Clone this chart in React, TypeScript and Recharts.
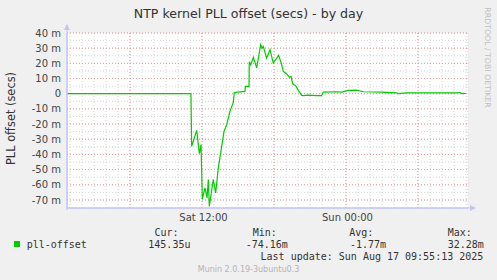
import { LineChart, Line, XAxis, YAxis, CartesianGrid, ReferenceLine } from "recharts"

// time in hours since Sat 00:00, offset in milliseconds
const hours = [
  0.75, 11.08, 11.14, 11.56, 11.78, 11.92, 12.03, 12.25, 12.42, 12.53, 12.61, 12.94, 13.14, 13.36,
  13.58, 13.83, 14.06, 14.33, 14.61, 14.69, 15.17, 15.58, 15.62, 15.92, 15.94, 16.06, 16.28, 16.56,
  16.89, 17.0, 17.11, 17.39, 17.67, 17.94, 18.39, 18.61, 18.78, 19.06, 19.28, 19.42, 19.56, 19.83,
  20.08, 20.31, 20.44, 20.86, 21.56, 21.97, 22.11, 23.22, 23.67, 24.19, 24.89, 25.44, 26.98, 28.22,
  28.36, 29.06, 33.22, 33.5, 33.67, 34.0,
]
const offsetMs = [
  0, 0, -34.7, -24.2, -39.5, -33.6, -69.4, -62, -68.7, -56.6, -74.2, -56.6, -65.4, -48.9,
  -38, -25, -20.4, -11.6, -5.7, 0.8, 1.2, 1.5, 4.8, 4.8, 21, 19, 24, 17,
  32.3, 30, 31.2, 23.5, 29, 20.2, 25.3, 20, 14.7, 13, 10.8, 11.4, 6.5, 5,
  1.5, -1.1, -1.3, -0.9, -1.3, -1.3, 1.1, 1.3, 1.0, 2.2, 2.4, 1.3, 1.0, 0.5,
  0, 0.5, 0.5, 0.8, 0.1, 0.15,
]

const minorX = Array.from({ length: 34 }, (_, i) => i + 1)
const majorX = [6, 12, 18, 24, 30]
const xLabels: Record<number, string> = { 12: "Sat 12:00", 24: "Sun 00:00" }
const minorY = [-70, -65, -60, -55, -50, -45, -40, -35, -30, -25, -20, -15, -10, -5, 0, 5, 10, 15, 20, 25, 30, 35, 40]
const majorY = [-70, -60, -50, -40, -30, -20, -10, 0, 10, 20, 30, 40]

const legendHeads = [
  { label: "Cur:", x: 154.5 },
  { label: "Min:", x: 252.7 },
  { label: "Avg:", x: 349.3 },
  { label: "Max:", x: 447.7 },
]
const legendValues = [
  { label: "145.35u", x: 148.3 },
  { label: "-74.16m", x: 245.7 },
  { label: "-1.77m", x: 350 },
  { label: "32.28m", x: 447.7 },
]

const data = hours.map((h, i) => ({ h, v: offsetMs[i] }))

const SANS = "'DejaVu Sans', sans-serif"
const MONO = "'DejaVu Sans Mono', monospace"
const AXIS = "#c4c4f4"

function YTick(props: any) {
  const { y, payload } = props
  const v = payload.value
  if (v % 10 !== 0) return null
  const txt = v === 0 ? "0" : `${v} m`
  return (
    <text x={61} y={y + 3.6} textAnchor="end" fontSize={10} fontFamily={SANS} fill="#444">
      {txt}
    </text>
  )
}

function XTick(props: any) {
  const { x, payload } = props
  const txt = xLabels[payload.value]
  if (!txt) return null
  return (
    <text x={x + 1.5} y={221} textAnchor="middle" fontSize={10} fontFamily={SANS} fill="#444">
      {txt}
    </text>
  )
}

export default function App() {
  return (
    <div style={{ position: "absolute", left: 0, top: 0, width: 497, height: 280, background: "#f0f0f0", overflow: "hidden" }}>
      <LineChart width={497} height={280} data={data} margin={{ top: 33, right: 29, bottom: 52, left: 0 }}>
        <CartesianGrid fill="#ffffff" stroke="#d4d4d4" strokeDasharray="1 2" />
        <XAxis
          dataKey="h"
          type="number"
          domain={[0.75, 34.17]}
          ticks={minorX}
          interval={0}
          height={20}
          tick={<XTick />}
          tickLine={false}
          axisLine={{ stroke: AXIS }}
          allowDataOverflow
        />
        <YAxis
          type="number"
          domain={[-75.3, 40]}
          ticks={minorY}
          interval={0}
          width={67}
          tick={<YTick />}
          tickLine={false}
          axisLine={{ stroke: AXIS }}
          allowDataOverflow
        />
        {majorY.map((v) => (
          <ReferenceLine key={`y${v}`} y={v} stroke="#ee9a9a" strokeDasharray="1 2" />
        ))}
        {majorX.map((v) => (
          <ReferenceLine key={`x${v}`} x={v} stroke="#ee9a9a" strokeDasharray="1 2" />
        ))}
        <Line
          type="linear"
          dataKey="v"
          stroke="#00cc00"
          strokeWidth={1.2}
          dot={false}
          isAnimationActive={false}
        />
      </LineChart>
      <svg width={497} height={280} style={{ position: "absolute", left: 0, top: 0, pointerEvents: "none" }}>
        <line x1={67} y1={28} x2={67} y2={210} stroke={AXIS} />
        <polygon points="64,30 70,30 67,24" fill={AXIS} />
        <line x1={66} y1={208} x2={471} y2={208} stroke={AXIS} />
        <polygon points="470,205 470,211 476,208" fill={AXIS} />
        <text x={248.5} y={18} textAnchor="middle" fontSize={12.6} fontFamily={SANS} fill="#333">
          NTP kernel PLL offset (secs) - by day
        </text>
        <text
          x={0}
          y={0}
          transform="translate(14.5,118.5) rotate(-90)"
          textAnchor="middle"
          fontSize={11.4}
          fontFamily={SANS}
          fill="#333"
        >
          PLL offset (secs)
        </text>
        <text
          x={0}
          y={0}
          transform="translate(484.5,57.5) rotate(90)"
          textAnchor="middle"
          fontSize={7.8}
          fontFamily={SANS}
          fill="#c0c0c0"
        >
          RRDTOOL / TOBI OETIKER
        </text>
        <rect x={14} y={241} width={6} height={6} fill="#00cc00" />
        <text x={26.7} y={247.5} fontSize={10} fontFamily={MONO} fill="#333">
          pll-offset
        </text>
        {legendHeads.map((d) => (
          <text key={d.label} x={d.x} y={236} fontSize={10} fontFamily={MONO} fill="#333">
            {d.label}
          </text>
        ))}
        {legendValues.map((d) => (
          <text key={d.label} x={d.x} y={247.5} fontSize={10} fontFamily={MONO} fill="#333">
            {d.label}
          </text>
        ))}
        <text x={483.3} y={259.5} textAnchor="end" fontSize={10} fontFamily={MONO} fill="#333">
          Last update: Sun Aug 17 09:55:13 2025
        </text>
        <text x={248.5} y={271.5} textAnchor="middle" fontSize={8} fontFamily={SANS} fill="#b4b4b4">
          Munin 2.0.19-3ubuntu0.3
        </text>
      </svg>
    </div>
  )
}
